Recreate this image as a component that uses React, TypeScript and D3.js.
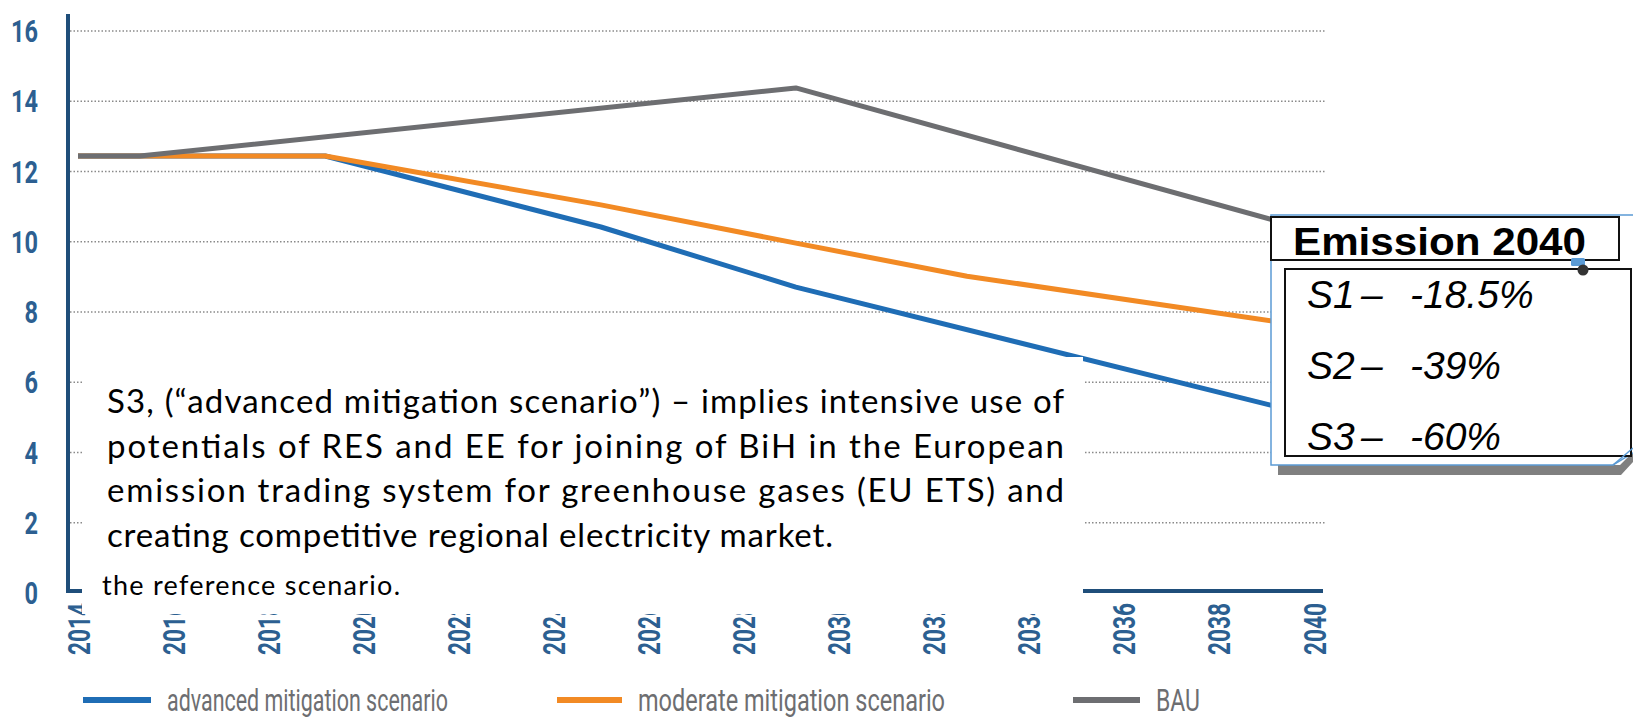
import React from "react";
import * as d3 from "d3";

const yTicks = [0, 2, 4, 6, 8, 10, 12, 14, 16];
const xTickLabels = ["2014", "2016", "2018", "2020", "2022", "2024", "2026", "2028", "2030", "2032", "2034", "2036", "2038", "2040"];

const advancedYears = [2014, 2015.3, 2019.2, 2025, 2029.1, 2040];
const advancedValues = [12.44, 12.44, 12.44, 10.42, 8.71, 5.04];
const moderateYears = [2014, 2015.3, 2019.2, 2025, 2029.1, 2032.7, 2040];
const moderateValues = [12.44, 12.44, 12.44, 11.05, 9.96, 9.02, 7.57];
const bauYears = [2014, 2015.3, 2029.1, 2040];
const bauValues = [12.44, 12.44, 14.38, 10.3];

const seriesNames = ["advanced mitigation scenario", "moderate mitigation scenario", "BAU"];
const seriesColors = ["#1f6db5", "#f28a24", "#6d6e71"];

const noteLines = [
  "S3, (\u201cadvanced mitigation scenario\u201d) \u2013 implies intensive use of",
  "potentials of RES and EE for joining of BiH in the European",
  "emission trading system for greenhouse gases (EU ETS) and",
  "creating competitive regional electricity market.",
];
const noteTail = "the reference scenario.";
const boxTitle = "Emission 2040";
const boxLabels = ["S1", "S2", "S3"];
const boxValues = ["-18.5%", "-39%", "-60%"];

const W = 1633;
const H = 718;

export default function App() {
  const x = d3.scaleLinear().domain([2014, 2040]).range([78, 1314]);
  const y = d3.scaleLinear().domain([0, 16]).range([593, 31]);
  const line = d3
    .line<[number, number]>()
    .x((d) => x(d[0]))
    .y((d) => y(d[1]));

  const series = [
    advancedYears.map((yr, i) => [yr, advancedValues[i]] as [number, number]),
    moderateYears.map((yr, i) => [yr, moderateValues[i]] as [number, number]),
    bauYears.map((yr, i) => [yr, bauValues[i]] as [number, number]),
  ];

  const axisColor = "#1f4e7a";
  const tickColor = "#2c5f91";
  const legendX = [83, 557, 1073];
  const legendTextW = [281, 307, 44];
  const legendLineW = [68, 65, 67];

  return (
    <svg width={W} height={H} style={{ position: "absolute", left: 0, top: 0, background: "#fff" }}>
      <rect x={0} y={0} width={W} height={H} fill="#fff" />
      {yTicks.filter((t) => t > 0).map((t) => (
        <line key={t} x1={70} x2={1325} y1={y(t)} y2={y(t)} stroke="#8a8a8a" strokeWidth={1.5} strokeDasharray="1.5 2" />
      ))}
      {yTicks.map((t) => (
        <text
          key={t}
          x={38}
          y={y(t) + 11}
          textAnchor="end"
          fontFamily="Roboto"
          fontWeight={700}
          fontSize={31}
          fill={tickColor}
          textLength={String(t).length * 13.5}
          lengthAdjust="spacingAndGlyphs"
        >
          {t}
        </text>
      ))}
      {xTickLabels.map((lab) => (
        <text
          key={lab}
          transform={`translate(${x(+lab)},655) rotate(-90)`}
          dy="0.36em"
          textAnchor="start"
          fontFamily="Roboto"
          fontWeight={700}
          fontSize={32}
          fill={tickColor}
          textLength={52}
          lengthAdjust="spacingAndGlyphs"
        >
          {lab}
        </text>
      ))}
      <line x1={68} x2={1323} y1={591} y2={591} stroke={axisColor} strokeWidth={4} />
      <line x1={68} x2={68} y1={14} y2={593} stroke={axisColor} strokeWidth={4} />
      {series.map((s, i) => (
        <path key={i} d={line(s) || ""} fill="none" stroke={seriesColors[i]} strokeWidth={5} strokeLinejoin="round" />
      ))}
      {seriesNames.map((n, i) => (
        <g key={n}>
          <line x1={legendX[i]} x2={legendX[i] + legendLineW[i]} y1={700} y2={700} stroke={seriesColors[i]} strokeWidth={6} />
          <text
            x={legendX[i] + legendLineW[i] + 16}
            y={711}
            fontFamily="Roboto"
            fontWeight={400}
            fontSize={32}
            fill="#6d6e71"
            textLength={legendTextW[i]}
            lengthAdjust="spacingAndGlyphs"
          >
            {n}
          </text>
        </g>
      ))}
      <rect x={82} y={357} width={1001} height={257} fill="#fff" />
      {noteLines.map((l, i) => (
        <text
          key={i}
          x={107}
          y={413 + i * 44.7}
          fontFamily="Lato"
          fontSize={33}
          fill="#000"
          textLength={i < 3 ? 957 : 726}
          lengthAdjust="spacing"
        >
          {l}
        </text>
      ))}
      <text x={102} y={595} fontFamily="Lato" fontSize={27} fill="#000" textLength={298} lengthAdjust="spacing">
        {noteTail}
      </text>
      <polygon points="1278,465 1620,465 1633,452 1633,462 1621,475 1278,475" fill="#808080" />
      <path d="M1271,465 L1271,215 L1640,215 L1640,453 L1633,453 L1613,465 Z" fill="#fff" stroke="#5b9bd5" strokeWidth={1.5} />
      <rect x={1285} y={269} width={346} height={187} fill="#fff" stroke="#111" strokeWidth={2} />
      <line x1={1613} y1={465} x2={1633} y2={448} stroke="#5b9bd5" strokeWidth={1.5} />
      <rect x={1271} y={217} width={348} height={43} fill="#fff" stroke="#111" strokeWidth={2} />
      <text x={1293} y={255} fontFamily="Liberation Sans" fontWeight="bold" fontSize={39} fill="#000" textLength={293} lengthAdjust="spacingAndGlyphs">
        {boxTitle}
      </text>
      <rect x={1571} y={258} width={14} height={8} rx={1.5} fill="#5b9bd5" />
      <circle cx={1583} cy={270} r={5.5} fill="#333" />
      {boxLabels.map((lab, i) => (
        <g key={lab} fontFamily="Liberation Sans" fontStyle="italic" fontSize={39} fill="#000">
          <text x={1307} y={308 + i * 71}>{lab}</text>
          <text x={1361} y={308 + i * 71}>{"\u2013"}</text>
          <text x={1410} y={308 + i * 71}>{boxValues[i]}</text>
        </g>
      ))}
    </svg>
  );
}
